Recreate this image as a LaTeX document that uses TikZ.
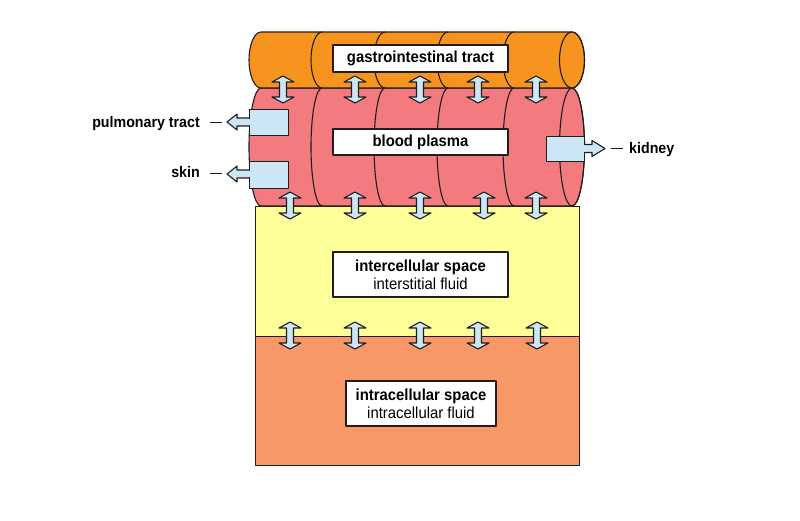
\documentclass[tikz,border=0pt]{standalone}
\usepackage{fontspec}
\setmainfont{Liberation Sans}[FakeStretch=0.93]
\definecolor{orangetop}{RGB}{247,148,32}
\definecolor{pinkc}{RGB}{243,122,126}
\definecolor{yel}{RGB}{255,255,153}
\definecolor{lorange}{RGB}{248,152,102}
\definecolor{lblue}{RGB}{205,230,245}
\definecolor{ink}{RGB}{30,30,30}
\tikzset{
  outl/.style={draw=ink, line width=1.1pt, line join=round},
  region/.style={outl, inner sep=0, anchor=north west},
  tbox/.style={outl, fill=white, inner sep=0, align=center, font=\fontsize{16}{18}\selectfont},
  lbl/.style={font=\bfseries\fontsize{15.3}{18}\selectfont, inner sep=0},
  dashln/.style={draw=ink, line width=1.6pt},
  arrowfill/.style={outl, fill=lblue},
  dbl/.pic={\draw[arrowfill] (0,-13.5) -- (11,-7.5) -- (3.5,-7.5) -- (3.5,7.5) -- (11,7.5) -- (0,13.5) -- (-11,7.5) -- (-3.5,7.5) -- (-3.5,-7.5) -- (-11,-7.5) -- cycle;}
}
\begin{document}
\begin{tikzpicture}[x=1pt,y=-1pt]
\useasboundingbox[fill=white] (0,0) rectangle (800,520);

% lower regions
\node[region, fill=yel, minimum width=324pt, minimum height=130pt] (inter) at (255,206) {};
\node[region, fill=lorange, minimum width=324pt, minimum height=129pt] (intra) at (255,336) {};

% blood plasma cylinder
\draw[outl, fill=pinkc] (261,88) -- (572,88)
  arc[start angle=270, end angle=450, x radius=12.5, y radius=59] -- (261,206)
  arc[start angle=90, end angle=270, x radius=12, y radius=59] -- cycle;
\draw[outl] (572,147) ellipse[x radius=12.5, y radius=59];
\foreach \sx in {322,385,448,514}
  \draw[outl] (\sx,88) arc[start angle=270, end angle=90, x radius=11, y radius=59];

% gastrointestinal cylinder
\draw[outl, fill=orangetop] (261,32) -- (572,32)
  arc[start angle=270, end angle=450, x radius=12.5, y radius=28] -- (261,88)
  arc[start angle=90, end angle=270, x radius=12, y radius=28] -- cycle;
\draw[outl] (572,60) ellipse[x radius=12.5, y radius=28];
\foreach \sx in {322,385,448,514}
  \draw[outl] (\sx,32) arc[start angle=270, end angle=90, x radius=11, y radius=28];

% exchange arrows
\foreach \ax in {283,355,420,478,536} \pic at (\ax,89.5) {dbl};
\foreach \ax in {290,355,420,484,536} \pic at (\ax,205.5) {dbl};
\foreach \ax in {290,355,420,478,537} \pic at (\ax,335.5) {dbl};

% text boxes
\node[tbox, minimum width=175pt, minimum height=27pt] (gi) at (420.5,58.5) {\bfseries gastrointestinal tract};
\node[tbox, minimum width=175pt, minimum height=26pt] (bp) at (420.5,142) {\bfseries blood plasma};
\node[tbox, minimum width=175pt, minimum height=45pt] (ics) at (420.5,274.5) {{\bfseries intercellular space}\\interstitial fluid};
\node[tbox, minimum width=150pt, minimum height=45pt] (ins) at (421,403.5) {{\bfseries intracellular space}\\intracellular fluid};

% outflow: pulmonary tract
\draw[arrowfill] (249.8,118) -- (237,118) -- (237,114) -- (227,122) -- (237,130) -- (237,126) -- (249.8,126);
\node[arrowfill, inner sep=0, minimum width=39pt, minimum height=26pt, anchor=north west] (pulm) at (249,109) {};
\fill[lblue] (248,118.6) rectangle (251,125.4);
% outflow: skin
\draw[arrowfill] (249.8,170) -- (237,170) -- (237,166) -- (227,174) -- (237,182) -- (237,178) -- (249.8,178);
\node[arrowfill, inner sep=0, minimum width=39pt, minimum height=27pt, anchor=north west] (skinr) at (249,161) {};
\fill[lblue] (248,170.6) rectangle (251,177.4);
% outflow: kidney
\draw[arrowfill] (583.2,144.5) -- (592,144.5) -- (592,140.5) -- (605,148.5) -- (592,156.5) -- (592,152.5) -- (583.2,152.5);
\node[arrowfill, inner sep=0, minimum width=38pt, minimum height=25pt, anchor=north west] (kid) at (546,136) {};
\fill[lblue] (582,145.1) rectangle (585,151.9);

% labels
\node[lbl, anchor=base east] (pulmlbl) at (200,127.3) {pulmonary tract};
\draw[dashln] (210,122.3) -- (222,122.3);
\node[lbl, anchor=base east] (skinlbl) at (200,177.5) {skin};
\draw[dashln] (210,173.3) -- (222,173.3);
\node[lbl, anchor=base west] (kidlbl) at (629,153.3) {kidney};
\draw[dashln] (611,148.3) -- (623,148.3);
\end{tikzpicture}
\end{document}
